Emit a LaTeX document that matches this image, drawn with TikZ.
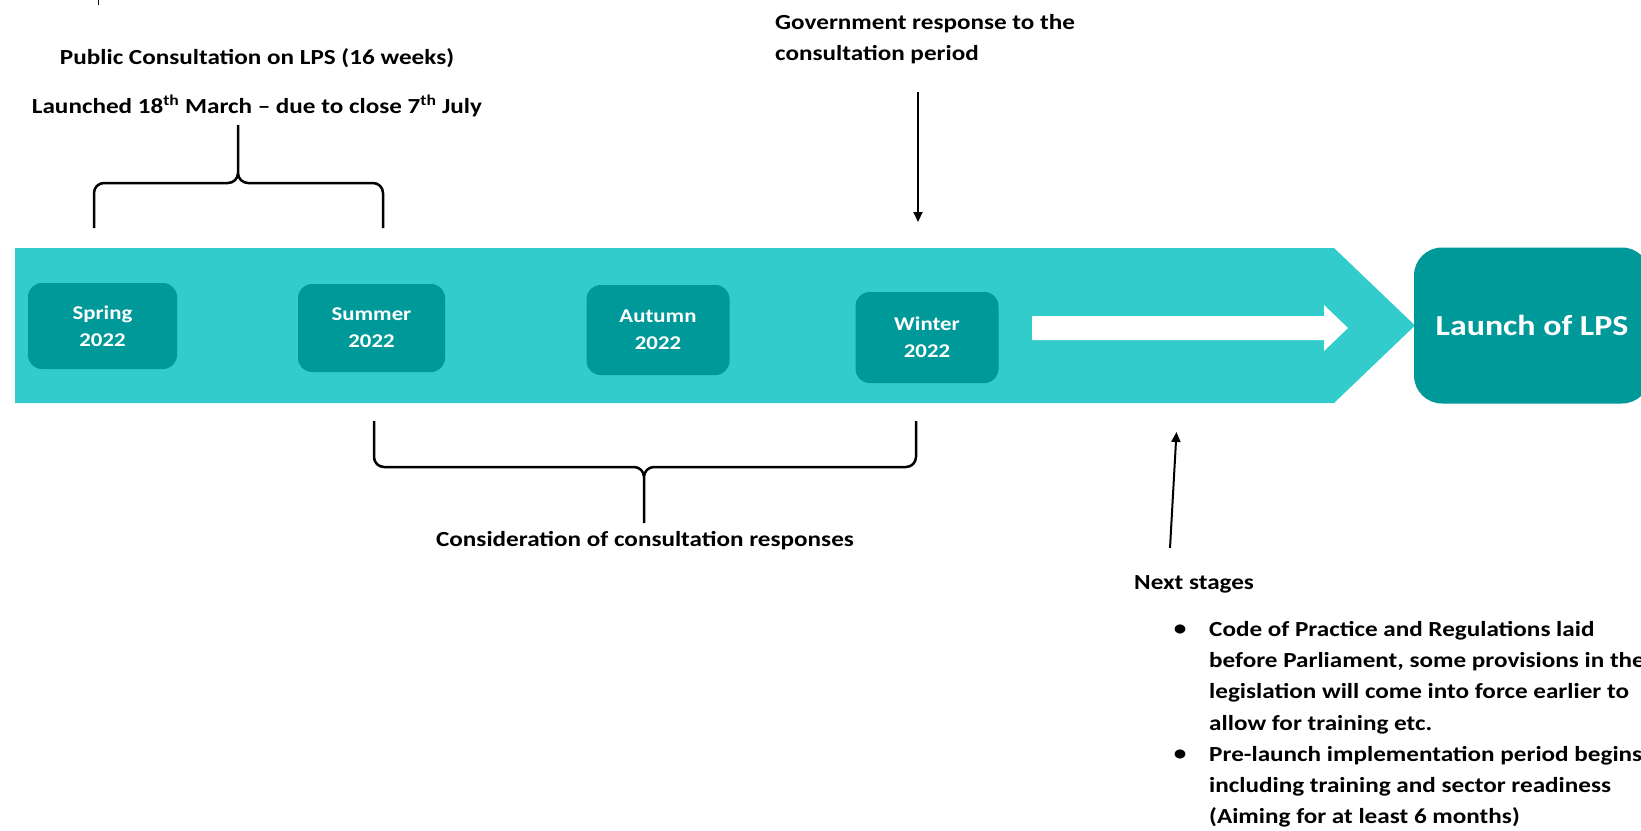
\documentclass[tikz,border=0pt]{standalone}
\usepackage{fontspec}
\setmainfont{Carlito}[FakeStretch=1.17]
\usetikzlibrary{arrows.meta}
\definecolor{bandteal}{RGB}{51,204,204}
\definecolor{boxteal}{RGB}{0,153,153}

\begin{document}
\begin{tikzpicture}[x=1pt, y=-1pt,
  season/.style={shape=rectangle, rounded corners=14pt, fill=boxteal, text=white, align=center,
    font=\bfseries\fontsize{19.5}{27}\selectfont, minimum width=143pt, minimum height=89pt, inner sep=0pt},
  note/.style={font=\bfseries\fontsize{21.5}{31.3}\selectfont, inner sep=0pt},
  brc/.style={draw=black, line width=2.5pt, rounded corners=10pt},
  pointer/.style={draw=black, line width=2pt, -{Triangle[length=10pt,width=9pt]}}]
\useasboundingbox (0,0) rectangle (1641,830);
\clip (0,0) rectangle (1641,830);
\draw[line width=1pt] (98,0) -- (98,5);
% timeline band
\fill[bandteal] (15,248) -- (1334,248) -- (1415,325.5) -- (1334,403) -- (15,403) -- cycle;
\fill[white] (1032,316) -- (1324,316) -- (1324,305) -- (1348,328) -- (1324,351) -- (1324,340) -- (1032,340) -- cycle;
\node[season, minimum width=149pt, minimum height=86pt] (spring) at (102.5,326) {Spring\\2022};
\node[season, minimum width=147pt, minimum height=88pt] (summer) at (371.5,328) {Summer\\2022};
\node[season, minimum height=90pt] (autumn) at (658,330) {Autumn\\2022};
\node[season, minimum height=91pt] (winter) at (927,337.5) {Winter\\2022};
\node[season, rounded corners=28pt, minimum width=236pt, minimum height=156pt,
  font=\bfseries\fontsize{29}{35}\selectfont] (launch) at (1532,325.5) {Launch of LPS};
% labels
\node[note] (consult) at (257,58) {Public Consultation on LPS (16 weeks)};
\node[note] (dates) at (257,106) {Launched 18\textsuperscript{th} March -- due to close 7\textsuperscript{th} July};
\node[note, align=left, anchor=north west] (govt) at (775,14) {Government response to the\\consultation period};
\node[note] (consider) at (645,541) {Consideration of consultation responses};
\node[note, anchor=west] (next) at (1134,584) {Next stages};
\node[note, anchor=center] (dot1) at (1180,630) {\textbullet};
\node[note, anchor=center] (dot2) at (1180,755) {\textbullet};
\node[note, align=left, anchor=north west] (item1) at (1209,621) {Code of Practice and Regulations laid\\before Parliament, some provisions in the\\legislation will come into force earlier to\\allow for training etc.};
\node[note, align=left, anchor=north west] (item2) at (1209,746) {Pre-launch implementation period begins,\\including training and sector readiness\\(Aiming for at least 6 months)};
% braces
\coordinate (topl) at (94,228);
\coordinate (topr) at (383,228);
\coordinate (toptip) at (238,125);
\draw[brc] (topl) |- (toptip |- 0,183) -- (toptip) (topr) |- (toptip |- 0,183) -- (toptip);
\coordinate (botl) at (374,421);
\coordinate (botr) at (916,421);
\coordinate (bottip) at (644,523);
\draw[brc] (botl) |- (bottip |- 0,467) -- (bottip) (botr) |- (bottip |- 0,467) -- (bottip);
% arrows
\coordinate (govttail) at (918,92);
\coordinate (govthead) at (918,222);
\coordinate (nexttail) at (1170,548);
\coordinate (nexthead) at (1176.5,432);
\draw[pointer] (govttail) -- (govthead);
\draw[pointer] (nexttail) -- (nexthead);
\end{tikzpicture}
\end{document}
